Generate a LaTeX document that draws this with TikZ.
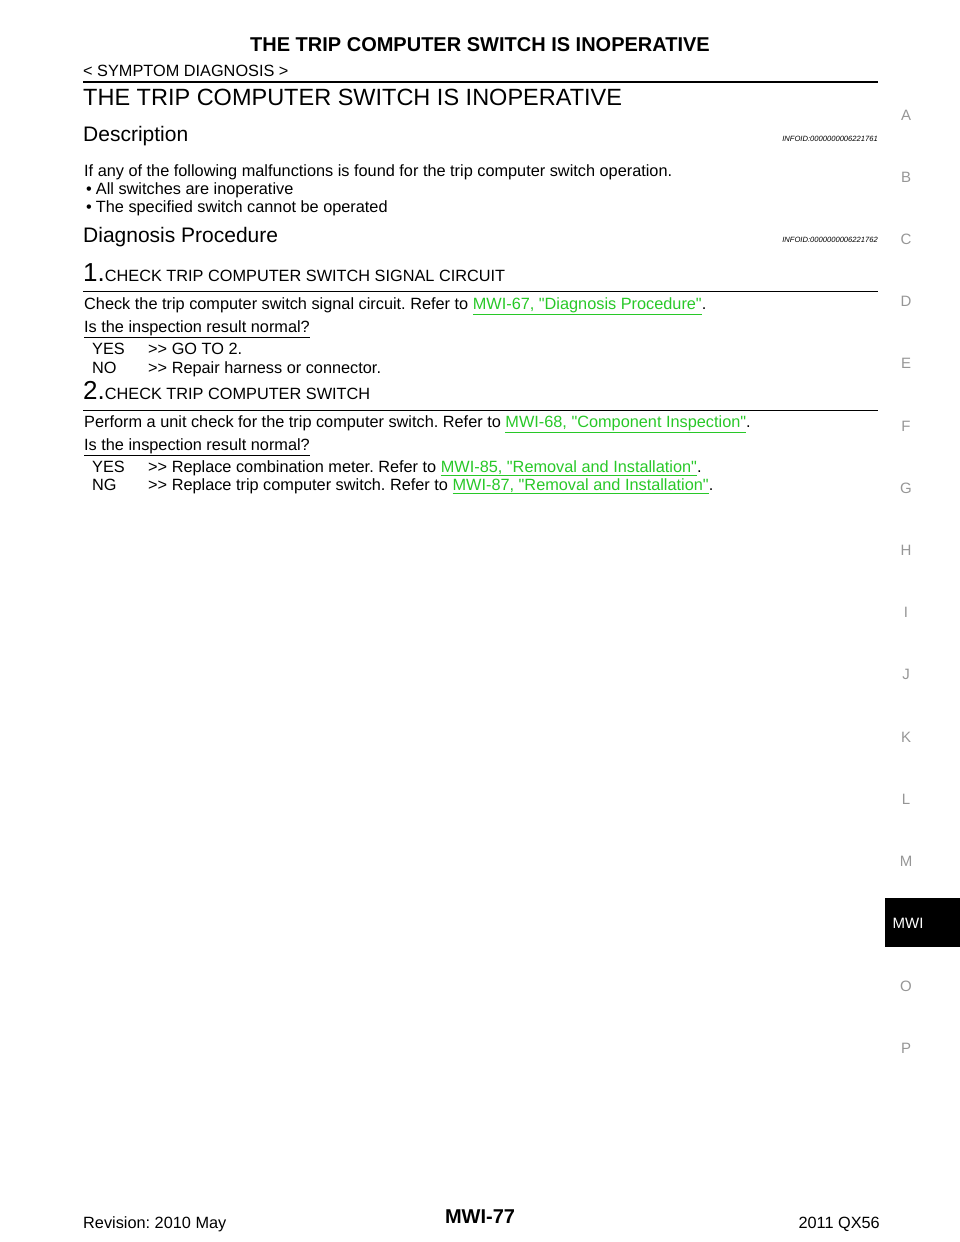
\documentclass[tikz,border=0pt]{standalone}
\usepackage{fontspec}
\setmainfont{Liberation Sans}[Ligatures=TeXReset]
\frenchspacing
\definecolor{linkgreen}{RGB}{40,200,40}
\definecolor{sidegray}{RGB}{150,150,150}
\tikzset{
  txt/.style={anchor=base west,inner sep=0pt,font=\fontsize{16.3}{18}\selectfont},
  head/.style={anchor=base west,inner sep=0pt,font=\fontsize{21}{24}\selectfont},
  info/.style={anchor=base east,inner sep=0pt,font=\itshape\fontsize{7.6}{8}\selectfont},
  side/.style={anchor=base,inner sep=0pt,text=sidegray,font=\fontsize{15}{18}\selectfont}
}
\newcommand{\lnk}[1]{\textcolor{linkgreen}{\underline{#1}}}
\begin{document}
\begin{tikzpicture}[x=1pt,y=-1pt]
\useasboundingbox (0,0) rectangle (960,1242);
% header
\node[anchor=base,inner sep=0pt,font=\bfseries\fontsize{20}{24}\selectfont] (title) at (480,51) {THE TRIP COMPUTER SWITCH IS INOPERATIVE};
\node[txt] (sect) at (83,76) {< SYMPTOM DIAGNOSIS >};
\draw[line width=2pt] (83,82) -- (878,82);
\node[anchor=base west,inner sep=0pt,font=\fontsize{23.5}{28}\selectfont] (main) at (83,105) {THE TRIP COMPUTER SWITCH IS INOPERATIVE};
% description
\node[head] (desc) at (83,141) {Description};
\node[info] (info1) at (878,141) {INFOID:0000000006221761};
\node[txt] (d1) at (84,176) {If any of the following malfunctions is found for the trip computer switch operation.};
\node[txt] (d2) at (86,194) {\textbullet\hspace{4pt}All switches are inoperative};
\node[txt] (d3) at (86,212) {\textbullet\hspace{4pt}The specified switch cannot be operated};
% procedure
\node[head] (diag) at (83,242) {Diagnosis Procedure};
\node[info] (info2) at (878,242) {INFOID:0000000006221762};
% step 1
\node[txt] (s1) at (83,281) {{\fontsize{26}{28}\selectfont 1.}CHECK TRIP COMPUTER SWITCH SIGNAL CIRCUIT};
\draw[line width=0.8pt] (83,291) -- (878,291);
\node[txt] (s1a) at (84,309) {Check the trip computer switch signal circuit. Refer to \lnk{MWI-67, "Diagnosis Procedure"}.};
\node[txt] (s1q) at (84,332) {\underline{Is the inspection result normal?}};
\node[txt] (s1y) at (92,354) {YES};
\node[txt] (s1ya) at (148,354) {>> GO TO 2.};
\node[txt] (s1n) at (92,373) {NO};
\node[txt] (s1na) at (148,373) {>> Repair harness or connector.};
% step 2
\node[txt] (s2) at (83,399) {{\fontsize{26}{28}\selectfont 2.}CHECK TRIP COMPUTER SWITCH};
\draw[line width=0.8pt] (83,410) -- (878,410);
\node[txt] (s2a) at (84,427) {Perform a unit check for the trip computer switch. Refer to \lnk{MWI-68, "Component Inspection"}.};
\node[txt] (s2q) at (84,450) {\underline{Is the inspection result normal?}};
\node[txt] (s2y) at (92,472) {YES};
\node[txt] (s2ya) at (148,472) {>> Replace combination meter. Refer to \lnk{MWI-85, "Removal and Installation"}.};
\node[txt] (s2n) at (92,490) {NG};
\node[txt] (s2na) at (148,490) {>> Replace trip computer switch. Refer to \lnk{MWI-87, "Removal and Installation"}.};
% side index
\foreach \l [count=\i from 0] in {A,B,C,D,E,F,G,H,I,J,K,L,M}
  \node[side] (idx\l) at (906,120+62.2*\i) {\l};
\fill[black] (885,898) rectangle (960,947);
\node[anchor=base,inner sep=0pt,text=white,font=\fontsize{15}{18}\selectfont] (idxMWI) at (908,928) {MWI};
\node[side] (idxO) at (906,991) {O};
\node[side] (idxP) at (906,1053) {P};
% footer
\node[txt] (rev) at (83,1228) {Revision: 2010 May};
\node[anchor=base,inner sep=0pt,font=\bfseries\fontsize{20}{24}\selectfont] (page) at (480,1223) {MWI-77};
\node[anchor=base east,inner sep=0pt,font=\fontsize{16.3}{18}\selectfont] (model) at (880,1228) {2011 QX56};
\end{tikzpicture}
\end{document}
